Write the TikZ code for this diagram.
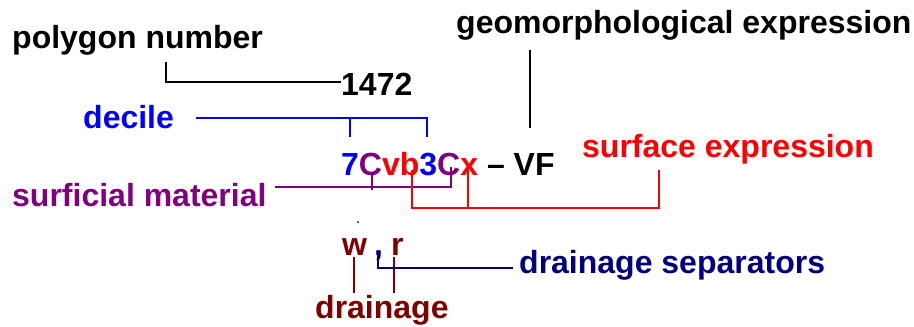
\documentclass[tikz,border=0pt]{standalone}
\usepackage{fontspec}
\setmainfont{Liberation Sans}
\definecolor{cblue}{RGB}{0,0,255}
\definecolor{cpurple}{RGB}{128,0,128}
\definecolor{cred}{RGB}{255,0,0}
\definecolor{cmaroon}{RGB}{128,0,0}
\definecolor{cnavy}{RGB}{0,0,128}
\begin{document}
\begin{tikzpicture}[x=1pt,y=-1pt,
  lbl/.style={inner sep=0pt,anchor=base west,font=\fontsize{32}{38}\selectfont\bfseries},
  conn/.style={line width=1.5pt}]
\useasboundingbox (0,0) rectangle (914,327);
% labels
\node[lbl] (poly) at (12,48) {polygon number};
\node[lbl] (num) at (341,95) {1472};
\node[lbl,cblue] (dec) at (83,128) {decile};
\node[lbl] (geo) at (456,33) {geomorphological expression};
\node[lbl,cred] (surf) at (582,157) {surface expression};
\node[lbl,cpurple] (mat) at (12,206) {surficial material};
\node[lbl] (code) at (341,175) {\textcolor{cblue}{7}\textcolor{cpurple}{C}\textcolor{cred}{vb}\textcolor{cblue}{3}\textcolor{cpurple}{C}\textcolor{cred}{x} – VF};
\node[lbl,cmaroon] (w) at (342,255) {w};
\node[lbl,cnavy] (comma) at (374,255) {,};
\node[lbl,cmaroon] (r) at (391,255) {r};
\node[lbl,cmaroon] (dr) at (315,318) {drainage};
\node[lbl,cnavy] (sep) at (519,273) {drainage separators};
% dot
\fill (358,222) circle (1pt);
% coordinates
\coordinate (p1) at (166,62);
\coordinate (p2) at (166,82);
\coordinate (d0) at (196,118);
\coordinate (d1) at (350,118);
\coordinate (d2) at (427,118);
\coordinate (g1) at (530,50);
\coordinate (g2) at (530,128);
\coordinate (m0) at (275,187);
\coordinate (m1) at (372,187);
\coordinate (m2) at (451,187);
\coordinate (s1) at (412,208);
\coordinate (s2) at (468,208);
\coordinate (s3) at (659,208);
% connectors
\draw[conn] (p1) -- (p2) -- (num.west |- p2);
\draw[conn,cblue] (d0) -- (d2) -- ++(0,19);
\draw[conn,cblue] (d1) -- ++(0,19);
\draw[conn] (g1) -- (g2);
\draw[conn,cpurple] (m0) -- (m2) -- ++(0,-20);
\draw[conn,cpurple] (372,175) -- (372,190);
\draw[conn,cred] (412,170) -- (s1) -- (s3) -- (659,170);
\draw[conn,cred] (468,168) -- (s2);
\draw[conn,cmaroon] (354,257) -- (354,293);
\draw[conn,cmaroon] (394,257) -- (394,293);
\draw[conn,cnavy] (378,252) -- (378,268) -- (513,268);
\end{tikzpicture}
\end{document}
